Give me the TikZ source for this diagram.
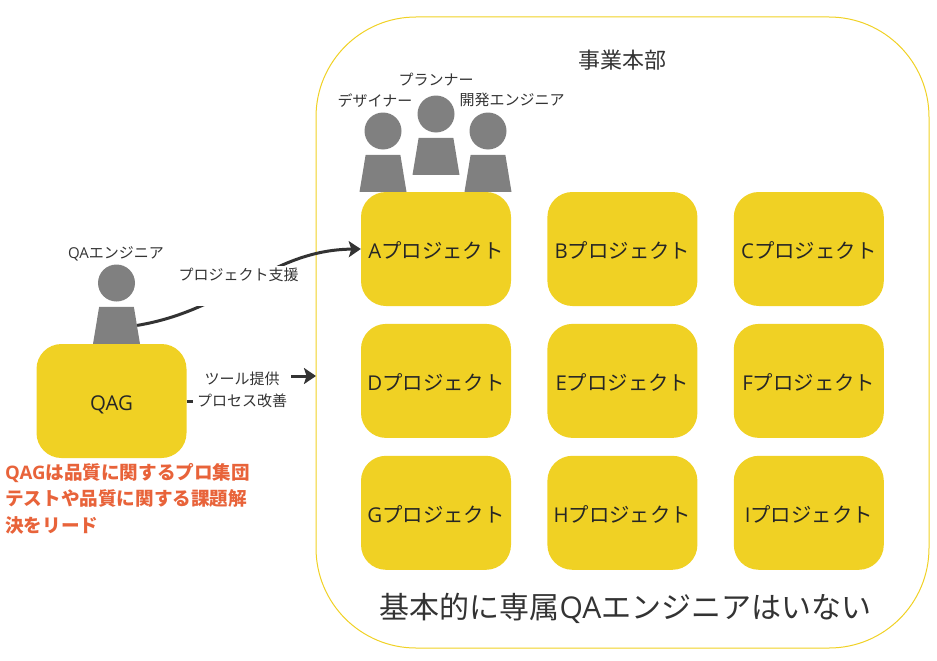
\documentclass[tikz,border=0pt]{standalone}
\usepackage{fontspec}
\setmainfont{Noto Sans CJK JP}
\newfontfamily\latinfont{Open Sans}
\usetikzlibrary{arrows.meta,positioning,shapes.geometric}
\definecolor{qayellow}{HTML}{F0D124}
\definecolor{qagray}{HTML}{808080}
\definecolor{qared}{HTML}{E8633A}
\definecolor{qatext}{HTML}{333333}
\tikzset{
    %Define standard arrow tip
    >={Stealth[length=12pt,width=16pt,inset=2.5pt]},
    %Define style for boxes
    project/.style={
           rectangle,
           rounded corners=25pt,
           fill=qayellow,
           minimum width=150pt,
           minimum height=114pt,
           inner sep=0pt,
           font=\fontsize{20.4}{24}\selectfont,
           text=black!85,
           text height=21pt,
           text depth=2pt,
           text centered},
    division/.style={
           rectangle,
           rounded corners=100pt,
           draw=qayellow, line width=1pt,
           minimum width=613pt,
           minimum height=631pt},
    head/.style={
           circle,
           fill=qagray,
           minimum size=37pt,
           inner sep=0pt},
    torso/.style={
           trapezium,
           trapezium stretches=true,
           trapezium left angle=80,
           trapezium right angle=80,
           fill=qagray,
           minimum width=47pt,
           minimum height=37pt,
           inner sep=2pt},
    role/.style={
           font=\fontsize{15}{18}\selectfont,
           text=qatext,
           inner sep=0pt},
    linelabel/.style={
           fill=white,
           font=\fontsize{15}{22}\selectfont,
           text=qatext,
           align=center,
           inner sep=4pt},
    % Define arrow style
    pil/.style={
           ->,
           draw=qatext,
           line width=3pt}
}
\begin{document}
\begin{tikzpicture}[x=1pt,y=1pt]
\useasboundingbox (0,0) rectangle (937,-661);
% business division
\node[division](division) at (622.5,-332.5){};
\node[font=\fontsize{22}{26}\selectfont, text=qatext, inner sep=0pt](divtitle) at (622,-60.5){事業本部};
\node[font=\fontsize{30}{36}\selectfont, text=qatext, inner sep=0pt](divnote) at (625.5,-608){基本的に専属{\latinfont QA}エンジニアはいない};
% projects
\node[project](a) at (436,-249){{\latinfont A}プロジェクト};
\node[project, right=36pt of a](b){{\latinfont B}プロジェクト};
\node[project, right=36pt of b](c){{\latinfont C}プロジェクト};
\node[project, below=17.5pt of a](d){{\latinfont D}プロジェクト};
\node[project, right=36pt of d](e){{\latinfont E}プロジェクト};
\node[project, right=36pt of e](f){{\latinfont F}プロジェクト};
\node[project, below=17.5pt of d](g){{\latinfont G}プロジェクト};
\node[project, right=36pt of g](h){{\latinfont H}プロジェクト};
\node[project, right=36pt of h](i){{\latinfont I}プロジェクト};
% people in the division
\node[head](desh) at (383,-131){};
\node[torso, below=5pt of desh](desb){};
\node[head](plah) at (436,-114){};
\node[torso, below=5pt of plah](plab){};
\node[head](devh) at (488,-131){};
\node[torso, below=5pt of devh](devb){};
\node[role](desl) at (375,-101){デザイナー};
\node[role](plal) at (436,-80){プランナー};
\node[role](devl) at (512,-100){開発エンジニア};
% QA group
\node[head](qah) at (116.5,-283){};
\node[torso, below=5pt of qah](qab){};
\node[role](qal) at (116,-254){{\latinfont QA}エンジニア};
\node[project](qag) at (111.5,-401){{\latinfont QAG}};
\node[align=left, text=qared, font=\fontsize{18.6}{26.5}\selectfont\bfseries, inner sep=0pt, anchor=north west](lead) at (5,-463){{\latinfont QAG}は品質に関するプロ集団\\テストや品質に関する課題解\\決をリード};
% connectors
\coordinate (divin) at (316,-376);
\coordinate (toolbend) at (242,-390);
\coordinate (supportmid) at (238.5,-286);
\draw[pil] (qab.east) .. controls (230,-310) and (270,-250) .. (a.west);
\draw[pil] (qag.east) -| (toolbend) |- (divin);
\node[linelabel, inner sep=2pt, text height=12pt, text depth=24pt](support) at (supportmid){プロジェクト支援};
\node[linelabel](tools) at (toolbend){ツール提供\\プロセス改善};
\end{tikzpicture}
\end{document}
